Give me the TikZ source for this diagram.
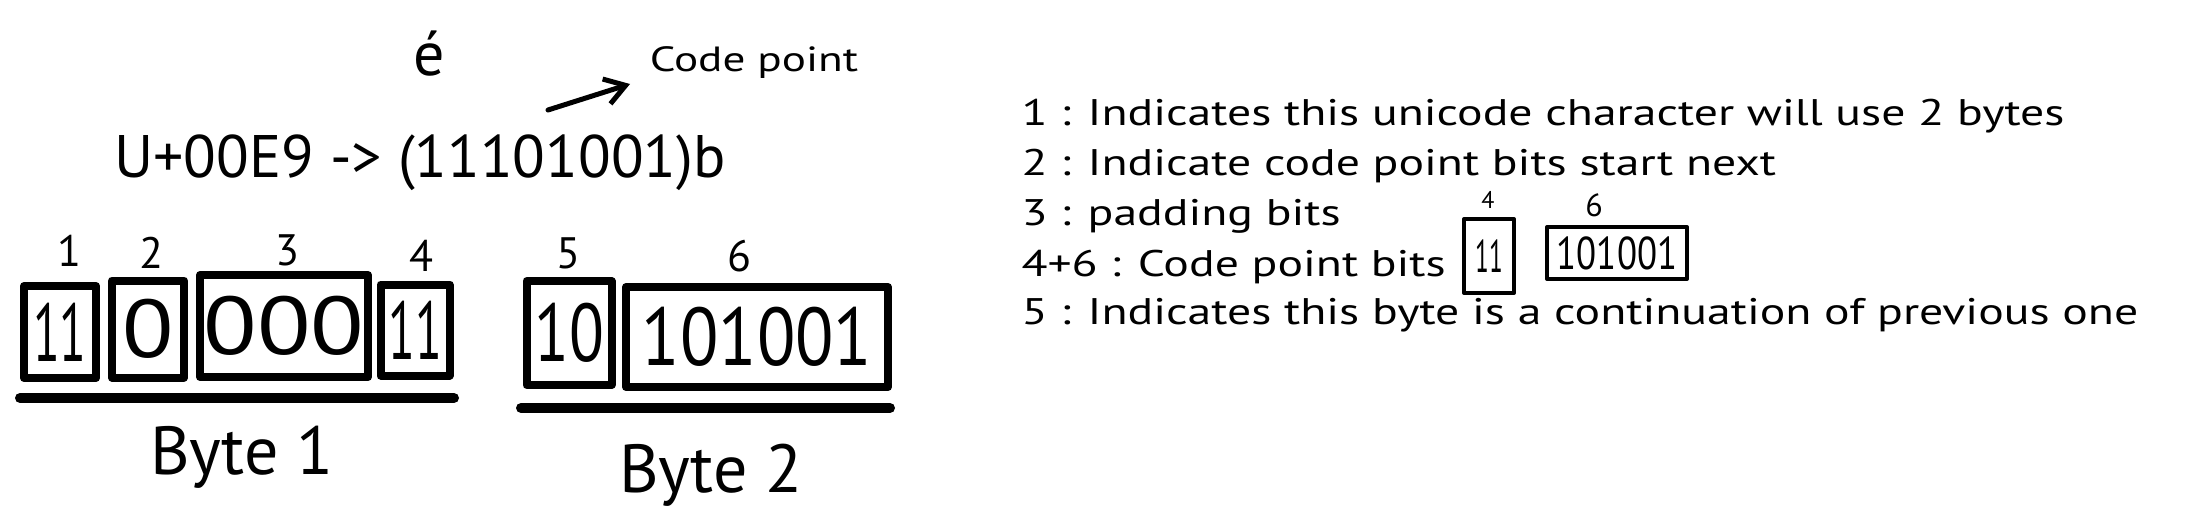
\documentclass[tikz,border=0pt]{standalone}
\usepackage{fontspec}
\usepackage{graphicx}
\setmainfont{PT Sans}
\newfontfamily\legendfont[FakeStretch=1.29]{PT Sans}
\usetikzlibrary{arrows.meta}
\newcommand{\hs}[2]{\scalebox{#1}[1]{#2}}
\begin{document}
\begin{tikzpicture}[x=1pt,y=-1pt,
  bitbox/.style={draw, line width=8pt, line join=round, inner sep=0pt,
    font=\fontsize{82}{82}\selectfont},
  smallbox/.style={draw, line width=4pt, line join=round, inner sep=0pt,
    font=\fontsize{46}{46}\selectfont},
  num/.style={font=\fontsize{44}{44}\selectfont},
  legend/.style={anchor=west, font=\legendfont\fontsize{37}{37}\selectfont},
  bar/.style={line width=10pt, line cap=round},
  bytelabel/.style={font=\fontsize{68}{68}\selectfont}]
\useasboundingbox (0,0) rectangle (2190,530);

% top
\node[font=\fontsize{62}{62}\selectfont] (eacute) at (429,54) {é};
\node[font=\legendfont\fontsize{35}{35}\selectfont] (cp) at (754,63) {Code point};
\coordinate (arS) at (548,110);
\coordinate (arE) at (630,84);
\draw[line width=5pt, line cap=round, -{Straight Barb[length=20pt,width=26pt,line width=5pt]}] (arS) -- (arE);
\node[font=\fontsize{60}{60}\selectfont] (code) at (420,163) {U+00E9 -> (11101001)b};

% numbers
\node[num] (n1) at (69,251) {1};
\node[num] (n2) at (151,253) {2};
\node[num] (n3) at (287,250) {3};
\node[num] (n4) at (421,256) {4};
\node[num] (n5) at (568,253) {5};
\node[num] (n6) at (739,256) {6};

% byte 1
\node[bitbox, minimum width=72pt, minimum height=92pt] (b1) at (60,332) {\hs{0.6}{11}};
\node[bitbox, minimum width=72pt, minimum height=97pt] (b2) at (148,329) {\hs{1.15}{0}};
\node[bitbox, minimum width=168pt, minimum height=102pt] (b3) at (284,326) {\hs{1.2}{000}};
\node[bitbox, minimum width=69pt, minimum height=91pt] (b4) at (415,330) {\hs{0.6}{11}};
\coordinate (u1a) at (20,398);
\coordinate (u1b) at (454,398);
\draw[bar] (u1a) -- (u1b);
\node[bytelabel] (byte1) at (242,457) {Byte 1};

% byte 2
\node[bitbox, minimum width=85pt, minimum height=104pt] (b5) at (569,333) {\hs{0.78}{10}};
\node[bitbox, minimum width=262pt, minimum height=100pt] (b6) at (757,337) {\hs{0.86}{101001}};
\coordinate (u2a) at (521,408);
\coordinate (u2b) at (890,408);
\draw[bar] (u2a) -- (u2b);
\node[bytelabel] (byte2) at (711,475) {Byte 2};

% legend
\node[legend] (l1) at (1018,116) {1 : Indicates this unicode character will use 2 bytes};
\node[legend] (l2) at (1018,166) {2 : Indicate code point bits start next};
\node[legend] (l3) at (1018,216) {3 : padding bits};
\node[legend] (l4) at (1018,267) {4+6 : Code point bits};
\node[legend] (l5) at (1018,315) {5 : Indicates this byte is a continuation of previous one};

\node[smallbox, minimum width=50pt, minimum height=74pt] (s4) at (1489,256) {\hs{0.55}{11}};
\node[smallbox, minimum width=140pt, minimum height=52pt] (s6) at (1617,253) {\hs{0.8}{101001}};
\node[font=\fontsize{24}{24}\selectfont] (sn4) at (1488,200) {4};
\node[font=\fontsize{32}{32}\selectfont] (sn6) at (1594,205) {6};
\end{tikzpicture}
\end{document}
